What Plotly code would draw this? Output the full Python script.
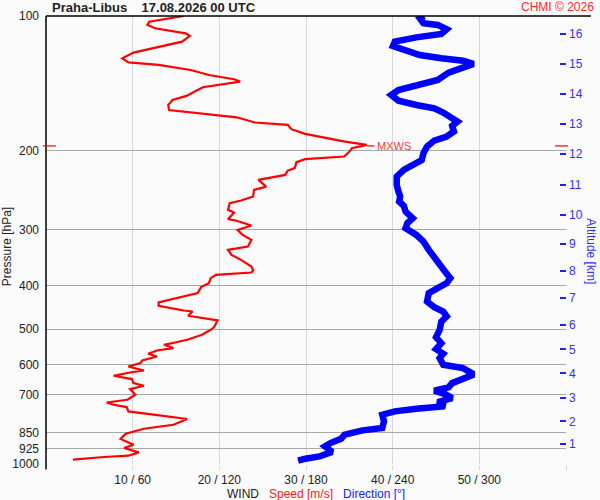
import plotly.graph_objects as go

# wind speed profile (hPa, m/s)
speed_hpa = [100, 103, 104.7, 106.5, 109.3, 110.8, 114.1, 117.1, 120.7, 124.3, 126.9, 128.6,
             132.0, 135.4, 138.4, 140.1, 144.2, 146.3, 150.8, 154.0, 158.0, 162.1, 165.4, 168.3,
             172.9, 175.0, 178.9, 183.3, 190.7, 194.0, 197.3, 201.8, 205.9, 208.7, 212.0, 218.6,
             221.3, 226.3, 232.2, 240.3, 244.4, 252.9, 258.2, 261.8, 270.8, 274.6, 284.1, 286.1,
             293.6, 300.2, 308.1, 316.1, 327.1, 332.7, 341.3, 350.2, 362.4, 369.8, 373.7, 378.2,
             384.7, 394.7, 402.9, 415.5, 436, 443.5, 454.3, 456.6, 466.8, 472.5, 478.2, 494.8,
             501.7, 514.7, 528.1, 535.5, 541.9, 551.1, 557.9, 567.5, 575.4, 587.3, 595.2, 605.8,
             618.3, 624.7, 635.4, 646.3, 659.8, 669, 680.5, 700.7, 718.9, 728.9, 737.5, 746.3,
             763.3, 776.2, 793.6, 817.2, 834.2, 855.8, 879.4, 905.5, 921.1, 942.2, 958.3, 964.7,
             978.2]
speed_ms = [15.9, 11.9, 11.7, 12.6, 16.1, 16.6, 15.7, 13.0, 10.1, 8.8, 9.5, 13.0,
            16.7, 18.8, 21.7, 22.4, 18.1, 17.5, 16.2, 14.6, 14.1, 14.2, 18.8, 22.0,
            24.1, 27.9, 28.3, 29.9, 34.5, 37.0, 35.3, 34.9, 34.4, 29.9, 28.9, 28.7,
            27.9, 27.6, 24.5, 25.4, 24.0, 23.9, 22.5, 21.2, 21.0, 21.7, 21.0, 21.9,
            23.7, 22.1, 22.7, 23.7, 23.3, 21.0, 21.4, 22.5, 23.7, 23.9, 23.7, 19.6,
            19.0, 18.8, 17.9, 17.5, 13.0, 13.0, 15.9, 16.9, 16.4, 18.3, 19.8, 19.4,
            19.0, 18.0, 16.3, 14.9, 13.6, 14.7, 12.8, 11.8, 12.8, 11.1, 10.9, 9.5,
            11.3, 9.7, 7.8, 9.9, 10.1, 11.3, 9.7, 10.3, 9.4, 7.0, 7.8, 9.3,
            9.5, 12.4, 16.3, 14.7, 11.3, 9.2, 8.6, 10.1, 9.0, 10.7, 9.5, 6.7,
            3.1]

# wind direction profile (hPa, deg)
dir_hpa = [100, 101.2, 103.8, 104.7, 107.1, 109.7, 111.6, 114.1, 116.7, 120.1, 122.2, 124.3,
           125.8, 127.9, 130.8, 133.8, 138.9, 142.5, 146.3, 150.1, 154.5, 158.0, 160.7, 164.3,
           169.2, 172.1, 176.0, 181.1, 185.8, 189.7, 195.6, 202.5, 209.6, 216.0, 220.5, 228.2,
           238.2, 246.5, 252.9, 259.5, 265.3, 273.2, 282.7, 290.1, 297.6, 308.1, 318.8, 332.7,
           347.1, 359.3, 371.8, 384.7, 394.7, 405, 415.5, 433.8, 446.5, 456.6, 468.4, 480.9,
           501.8, 521, 537.3, 554.1, 567.5, 580.3, 600.4, 610.9, 626.6, 634.2, 645.2, 659.8,
           674.5, 686.1, 698.1, 712.5, 727.3, 743.6, 752.6, 763, 776.2, 803.2, 831.1, 841.1,
           860.1, 878, 897.9, 913.3, 940.3, 961.4, 973.0, 983.1]
dir_deg = [261.8, 258.8, 261.3, 271.2, 277.4, 273.7, 256.4, 241.5, 240.2, 253.9, 258.8, 273.7,
           288.6, 296.0, 288.6, 278.7, 271.2, 258.8, 244.0, 239.0, 244.0, 256.4, 268.8, 275.0,
           281.2, 284.9, 281.2, 282.4, 277.4, 268.8, 263.8, 261.3, 260.1, 253.9, 247.7, 242.8,
           242.8, 244.0, 245.2, 244.5, 247.7, 248.9, 253.9, 250.2, 248.9, 256.4, 261.3, 265.0,
           268.8, 272.5, 276.2, 279.9, 277.4, 271.2, 265.0, 263.8, 268.8, 275.0, 277.4, 273.7,
           272.5, 270.0, 273.7, 270.0, 275.0, 272.5, 275.0, 288.6, 294.8, 294.8, 289.9, 281.2,
           278.7, 268.8, 276.2, 281.2, 271.2, 276.2, 256.4, 241.5, 232.8, 234.0, 232.8, 219.2,
           206.8, 204.3, 196.9, 193.1, 198.1, 189.4, 179.5, 174.5]

p_ticks = [100, 200, 300, 400, 500, 600, 700, 850, 925, 1000]
x_ticks = [10, 20, 30, 40, 50, 60]
x_labels = ["10 / 60", "20 / 120", "30 / 180", "40 / 240", "50 / 300", ""]
alt_km = list(range(1, 17))
alt_hpa = [903, 803.5, 713, 627.4, 554.6, 489, 425, 370, 322.6, 277.9, 238.2, 203.2,
           174.1, 149.5, 127.9, 109.7]
mxws_hpa = 195
mxws_speed = 37.0

FONT = "Liberation Sans, Arial, sans-serif"
RED = "#ff0000"
BLUE = "#0000ff"

fig = go.Figure()
fig.add_trace(go.Scatter(x=dir_deg, y=dir_hpa, xaxis="x2", yaxis="y", mode="lines",
                         line=dict(color=BLUE, width=6.5), showlegend=False, hoverinfo="skip"))
fig.add_trace(go.Scatter(x=speed_ms, y=speed_hpa, mode="lines",
                         line=dict(color=RED, width=2.2), showlegend=False, hoverinfo="skip"))
# dummy trace to activate right axis
fig.add_trace(go.Scatter(x=[None], y=[None], yaxis="y2", showlegend=False))

fig.update_layout(
    width=600, height=500,
    margin=dict(l=46, r=34, t=16, b=36),
    paper_bgcolor="#fafafa", plot_bgcolor="#fafafa",
    font=dict(family=FONT, size=12, color="#222222"),
    xaxis=dict(range=[0, 60], tickvals=x_ticks, ticktext=x_labels, showgrid=True,
               gridcolor="#d8d8d8", gridwidth=1, zeroline=False, showline=False,
               ticks="outside", ticklen=5, tickcolor="#d8d8d8", automargin=False,
               ticklabelstandoff=0, tickfont=dict(size=12, color="#222222")),
    xaxis2=dict(range=[0, 360], overlaying="x", visible=False),
    yaxis=dict(type="log", range=[3, 2], tickvals=p_ticks, ticktext=[str(v) for v in p_ticks],
               showgrid=True, gridcolor="#a8a8a8", gridwidth=1, zeroline=False,
               showline=False, ticks="", ticklabelstandoff=6, automargin=False,
               tickfont=dict(size=12, color="#222222")),
    yaxis2=dict(type="log", range=[3, 2], overlaying="y", side="right", anchor="x",
                tickvals=alt_hpa, ticktext=[str(k) for k in alt_km], showgrid=False,
                zeroline=False, showline=False, ticks="inside", ticklen=6,
                tickcolor="#2222ee", tickwidth=1.5, ticklabelstandoff=2, automargin=False,
                tickfont=dict(size=12, color="#3333ee")),
    shapes=[
        dict(type="line", xref="paper", yref="paper", x0=0, x1=1.048, y0=1, y1=1,
             line=dict(color="black", width=1.5)),
        dict(type="line", xref="paper", yref="paper", x0=0, x1=0, y0=-0.012, y1=1,
             line=dict(color="black", width=1.5)),
        dict(type="line", xref="paper", yref="y", x0=-0.006, x1=0.019,
             y0=mxws_hpa, y1=mxws_hpa, line=dict(color=RED, width=1.2)),
        dict(type="line", xref="paper", yref="y", x0=0.979, x1=1.004,
             y0=mxws_hpa, y1=mxws_hpa, line=dict(color=RED, width=1.2)),
        dict(type="line", xref="x", yref="y", x0=mxws_speed, x1=mxws_speed + 0.9,
             y0=mxws_hpa, y1=mxws_hpa, line=dict(color=RED, width=1.2)),
    ],
    annotations=[
        dict(text="<b>Praha-Libus&nbsp;&nbsp;&nbsp;&nbsp;17.08.2026 00 UTC</b>", xref="paper",
             yref="paper", x=0.008, y=1.02, xanchor="left", yanchor="middle",
             showarrow=False, font=dict(size=13, color="#222222")),
        dict(text="CHMI © 2026", xref="paper", yref="paper", x=1.058, y=1.02,
             xanchor="right", yanchor="middle", showarrow=False,
             font=dict(size=12, color="#ff2a2a")),
        dict(text="MXWS", xref="x", yref="y", x=mxws_speed + 1.0, y=2.29,
             xanchor="left", yanchor="middle", showarrow=False,
             font=dict(size=11, color="#ff4040")),
        dict(text="Pressure [hPa]", xref="paper", yref="paper", x=-0.075, y=0.484,
             xanchor="center", yanchor="middle", textangle=-90, showarrow=False,
             font=dict(size=12, color="#222222")),
        dict(text="Altitude [km]", xref="paper", yref="paper", x=1.048, y=0.475,
             xanchor="center", yanchor="middle", textangle=90, showarrow=False,
             font=dict(size=12, color="#3333ee")),
        dict(text="WIND&nbsp;&nbsp;&nbsp;<span style='color:#ff2020'>Speed [m/s]</span>"
                  "&nbsp;&nbsp;&nbsp;<span style='color:#2020ff'>Direction [°]</span>",
             xref="paper", yref="paper", x=0.344, y=-0.066, xanchor="left",
             yanchor="middle", showarrow=False, font=dict(size=12, color="#222222")),
    ],
)

fig.write_html("out.html", config={"displayModeBar": False},
               post_script="document.body.style.margin='0';")
